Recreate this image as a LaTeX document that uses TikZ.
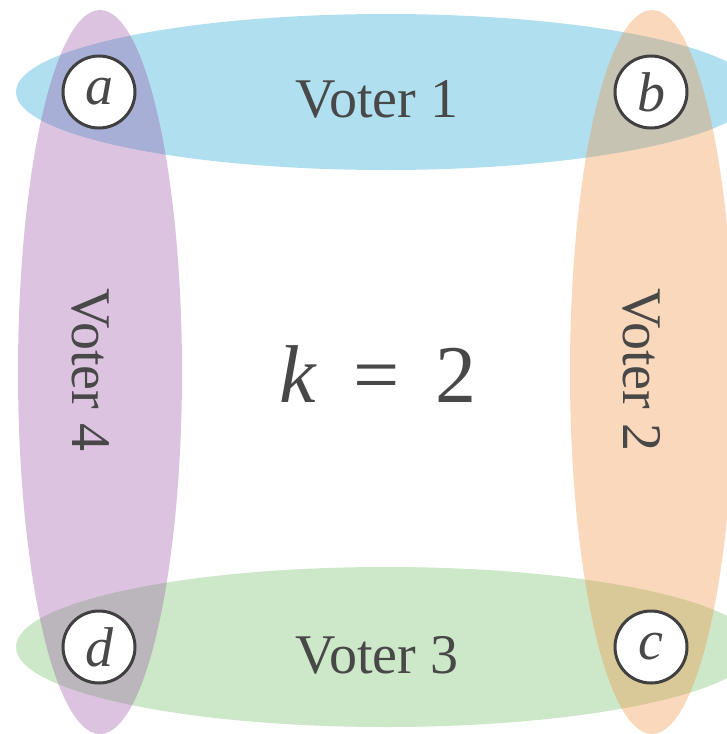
\documentclass[tikz,border=0pt]{standalone}
\usepackage{fontspec}
\setmainfont{Liberation Serif}
\definecolor{vblue}{RGB}{176,224,240}
\definecolor{vgreen}{RGB}{205,232,200}
\definecolor{vpurple}{RGB}{155,86,166}
\definecolor{vorange}{RGB}{240,143,64}
\definecolor{ink}{RGB}{72,72,72}
\definecolor{ring}{RGB}{64,64,64}
\tikzset{
  vertex/.style={circle, draw=ring, line width=3pt, fill=white, minimum size=72pt, inner sep=0pt, text=ink, font=\fontsize{56}{56}\selectfont\itshape},
  voterlabel/.style={text=ink, inner sep=0pt, font=\fontsize{56}{56}\selectfont},
  overlay set/.style={opacity=0.35}
}
\begin{document}
\begin{tikzpicture}[x=1pt,y=-1pt]
\useasboundingbox (0,0) rectangle (727,734);
\begin{scope}
\clip (0,0) rectangle (727,734);
\fill[vblue] (386,92) ellipse [x radius=370, y radius=78];
\fill[vgreen] (386,647) ellipse [x radius=370, y radius=80];
\fill[vpurple, overlay set] (100,372) ellipse [x radius=82, y radius=362];
\fill[vorange, overlay set] (652,372) ellipse [x radius=82, y radius=362];
\end{scope}
\node[voterlabel] (v1) at (377,99) {Voter 1};
\node[voterlabel, rotate=-90] (v2) at (642,370) {Voter 2};
\node[voterlabel] (v3) at (377,655) {Voter 3};
\node[voterlabel, rotate=-90] (v4) at (91,370) {Voter 4};
\node[text=ink, inner sep=0pt, font=\fontsize{82}{82}\selectfont] (k) at (378,374) {\textit{k}\hspace{0.44em}=\hspace{0.44em}2};
\node[vertex] (a) at (99,92) {a};
\node[vertex] (b) at (651,92) {b};
\node[vertex] (c) at (651,647) {c};
\node[vertex] (d) at (99,647) {d};
\end{tikzpicture}
\end{document}
